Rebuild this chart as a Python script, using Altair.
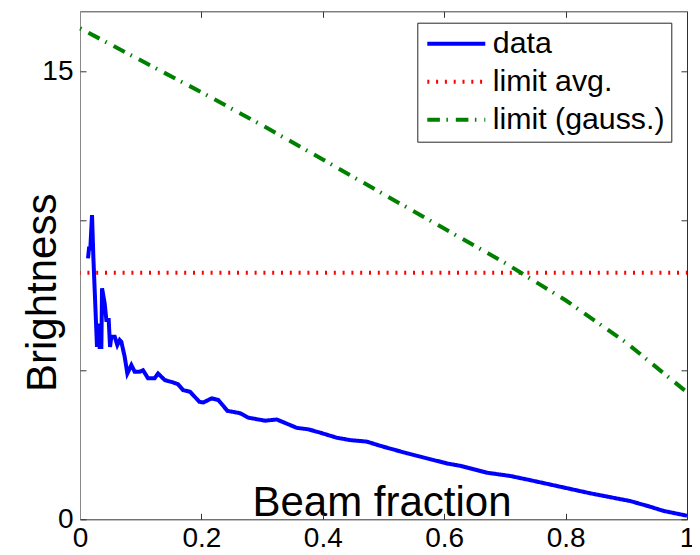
import altair as alt
import pandas as pd

FONT = "Liberation Sans"

series_names = ["data", "limit avg.", "limit (gauss.)"]
series_colors = ["#0000ff", "#ff0000", "#008000"]
series_dashes = [[1, 0], [2, 6.8], [12.6, 6.5, 1.5, 7.9]]

data_x = [0.0132, 0.0148, 0.0170, 0.0198, 0.0220, 0.0242, 0.0280, 0.0308, 0.0324, 0.0352,
          0.0363, 0.0407, 0.0434, 0.0473, 0.0495, 0.0516, 0.0572, 0.0615, 0.0654, 0.0681,
          0.0736, 0.0780, 0.0846, 0.0901, 0.0984, 0.1038, 0.1120, 0.1230, 0.1286, 0.1396,
          0.1533, 0.1615, 0.1700, 0.1813, 0.1967, 0.2033, 0.2171, 0.2280, 0.2428, 0.2637,
          0.2775, 0.3050, 0.3242, 0.3572, 0.3763, 0.3956, 0.4231, 0.4450, 0.4725, 0.4945,
          0.5385, 0.5715, 0.6044, 0.6263, 0.6703, 0.7088, 0.7417, 0.7912, 0.8406, 0.8736,
          0.9065, 0.9395, 0.9615, 1.0]
data_y = [8.73, 9.06, 9.06, 10.18, 8.78, 7.67, 5.77, 6.55, 5.77, 5.77,
          7.73, 7.22, 6.67, 6.67, 5.77, 6.11, 6.11, 5.83, 6.00, 5.94,
          5.44, 4.88, 5.16, 4.94, 4.94, 4.99, 4.72, 4.72, 4.88, 4.66,
          4.58, 4.52, 4.32, 4.27, 3.93, 3.91, 4.05, 3.99, 3.63, 3.55,
          3.40, 3.30, 3.34, 3.06, 3.01, 2.90, 2.73, 2.65, 2.60, 2.46,
          2.21, 2.04, 1.87, 1.79, 1.56, 1.45, 1.31, 1.09, 0.87, 0.74,
          0.61, 0.42, 0.28, 0.12]

avg_x = [0.0, 1.0]
avg_y = [8.25, 8.25]

gauss_x = [0.0, 0.1, 0.2, 0.3, 0.4, 0.5, 0.6, 0.7, 0.8, 0.9, 1.0]
gauss_y = [16.43, 15.36, 14.29, 13.19, 12.04, 10.88, 9.73, 8.58, 7.33, 5.91, 4.25]

x_ticks = [0, 0.2, 0.4, 0.6, 0.8, 1]
y_ticks = [0, 5, 10, 15]
y_labels = [0, 15]

rows = []
for name, xs_, ys_ in zip(series_names, [data_x, avg_x, gauss_x], [data_y, avg_y, gauss_y]):
    for i, (xv, yv) in enumerate(zip(xs_, ys_)):
        rows.append({"x": xv, "y": yv, "series": name, "order": i})
df = pd.DataFrame(rows)

W, H = 607, 508
xscale = alt.Scale(domain=[0, 1], nice=False, zero=False)
yscale = alt.Scale(domain=[0, 17], nice=False, zero=False)

legend = alt.Legend(
    title=None, orient="none", legendX=337.3, legendY=11.4, direction="vertical",
    symbolType="stroke", symbolSize=3364, symbolStrokeWidth=4, symbolOffset=2,
    labelFont=FONT, labelFontSize=30.3, labelColor="black", labelLimit=0,
    padding=6, rowPadding=7, labelOffset=5.5, clipHeight=30,
    strokeColor="#262626", fillColor="white", cornerRadius=0,
)

base = alt.Chart(df)

lines = base.mark_line(strokeWidth=4, strokeDashOffset=19, clip=False).encode(
    x=alt.X("x:Q", scale=xscale, axis=alt.Axis(
        values=x_ticks, format=".2~f", ticks=False, domain=True, domainColor="#404040",
        grid=False, labelFont=FONT, labelFontSize=28, labelColor="black",
        labelPadding=5, labelFlush=False, labelOverlap=False,
        title="Beam fraction", titleFont=FONT, titleFontSize=42, titleFontWeight="normal",
        titleColor="black", titleX=301.5, titleY=-4.3, titleAlign="center",
        titleBaseline="alphabetic")),
    y=alt.Y("y:Q", scale=yscale, axis=alt.Axis(
        values=y_labels, format=".2~f", ticks=False, domain=True, domainColor="#8a8a8a",
        grid=False, labelFont=FONT, labelFontSize=28, labelColor="black",
        labelPadding=7, labelFlush=False, labelOverlap=False,
        title="Brightness", titleFont=FONT, titleFontSize=42, titleFontWeight="normal",
        titleColor="black", titleAngle=270, titleX=-25, titleY=281, titleAlign="center",
        titleBaseline="alphabetic")),
    color=alt.Color("series:N", scale=alt.Scale(domain=series_names, range=series_colors),
                    legend=legend),
    strokeDash=alt.StrokeDash("series:N", scale=alt.Scale(domain=series_names, range=series_dashes),
                              legend=legend),
    order="order:Q",
)

tick_kw = dict(labels=False, grid=False, ticks=True, tickSize=6, tickColor="#333333", title=None)

ticks1 = base.mark_point(opacity=0, size=1).encode(
    x=alt.X("x:Q", scale=xscale, axis=alt.Axis(orient="top", offset=-H, values=x_ticks,
                                               domain=False, **tick_kw)),
    y=alt.Y("y:Q", scale=yscale, axis=alt.Axis(orient="right", offset=-W, values=y_ticks,
                                               domain=False, **tick_kw)),
)

ticks2 = base.mark_point(opacity=0, size=1).encode(
    x=alt.X("x:Q", scale=xscale, axis=alt.Axis(orient="bottom", offset=-H, values=x_ticks,
                                               domain=True, domainColor="#505050", **tick_kw)),
    y=alt.Y("y:Q", scale=yscale, axis=alt.Axis(orient="left", offset=-W, values=y_ticks,
                                               domain=True, domainColor="#303030", **tick_kw)),
)

chart = alt.layer(lines, ticks1, ticks2).resolve_axis(
    x="independent", y="independent"
).properties(
    width=W, height=H,
    padding={"left": 72, "top": 3.3, "right": 5, "bottom": 27.7},
    autosize=alt.AutoSizeParams(type="none"),
).configure_view(stroke=None).configure(background="white")

chart.save("out.html", embed_options={"renderer": "svg", "actions": False})
